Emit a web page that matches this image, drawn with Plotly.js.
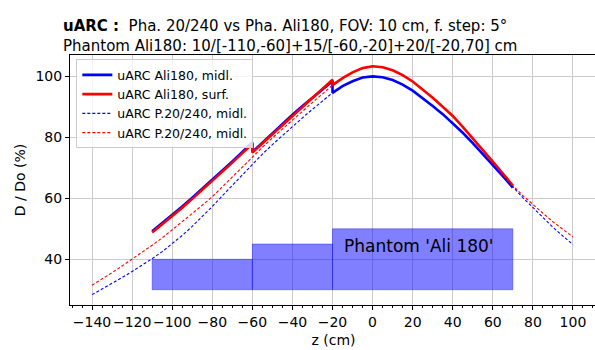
<!DOCTYPE html>
<html>
<head>
<meta charset="utf-8">
<script src="https://cdn.plot.ly/plotly-3.0.1.min.js"></script>
<style>
html,body{margin:0;padding:0;overflow:hidden;background:#fff;}
#chart{width:600px;height:350px;}
</style>
</head>
<body>
<div id="chart"></div>
<script>
// ---- Data ----
// Reference phantom P.20/240 (full range)
const zRef = [-140,-135,-130,-125,-120,-115,-110,-105,-100,-95,-90,-85,-80,-75,-70,-65,-60,-55,-50,-45,-40,-35,-30,-25,-20,-15,-10,-5,0,5,10,15,20,25,30,35,40,45,50,55,60,65,70,75,80,85,90,95,100];
const refMidl = [28.4,30.2,32.0,34.0,36.0,38.0,40.2,42.5,45.0,47.8,50.8,54.0,57.3,60.8,64.3,67.8,71.2,74.5,77.6,80.6,83.5,86.4,89.2,92.0,94.6,96.8,98.4,99.6,100.0,99.7,98.8,97.3,95.3,92.9,90.3,87.6,84.7,81.5,78.1,74.6,71.0,67.3,63.5,60.2,57.0,53.6,50.5,47.6,44.8];
const refSurf = [31.5,33.5,35.6,37.8,40.0,42.2,44.6,47.0,49.6,52.3,55.0,57.7,60.5,63.8,67.0,70.3,73.5,76.7,79.8,82.8,85.6,88.5,91.4,94.3,97.1,99.4,101.3,102.7,103.3,103.0,102.0,100.4,98.3,95.8,93.0,90.0,87.0,83.4,79.7,75.9,72.0,68.1,64.2,60.9,57.9,55.1,52.3,49.7,47.3];

// Phantom Ali180 (steps at -60 and -20)
const zAli = [-110,-105,-100,-95,-90,-85,-80,-75,-70,-65,-60,-60,-55,-50,-45,-40,-35,-30,-25,-20,-20,-15,-10,-5,0,5,10,15,20,25,30,35,40,45,50,55,60,65,70];
const aliMidl = [49.2,51.8,54.5,57.3,60.2,63.1,66.1,69.1,72.1,75.2,78.3,75.2,78.3,81.4,84.4,87.4,90.3,93.1,95.8,98.4,94.6,96.8,98.4,99.6,100.0,99.7,98.8,97.3,95.3,92.9,90.3,87.6,84.7,81.5,78.1,74.6,71.0,67.3,63.5];
const aliSurf = [48.8,51.4,54.1,56.9,59.8,62.7,65.7,68.7,71.7,74.8,77.8,75.0,78.0,81.0,84.0,86.9,89.9,92.8,95.8,98.9,97.1,99.4,101.3,102.7,103.3,103.0,102.0,100.4,98.3,95.8,93.0,90.0,87.0,83.4,79.7,75.9,72.0,68.1,64.2];

// Phantom sections: start, end, thickness (cm)
const phStart = [-110,-60,-20];
const phEnd = [-60,-20,70];
const phThick = [10,15,20];
const phBase = 30;

const xTicks = [-140,-120,-100,-80,-60,-40,-20,0,20,40,60,80,100];
const yTicks = [40,60,80,100];

const FONT = 'DejaVu Sans, sans-serif';

const traces = [
  {x: zAli, y: aliMidl, mode: 'lines', name: 'uARC Ali180, midl.', line: {color: '#0000ff', width: 2.6}},
  {x: zAli, y: aliSurf, mode: 'lines', name: 'uARC Ali180, surf.', line: {color: '#ff0000', width: 2.6}},
  {x: zRef, y: refMidl, mode: 'lines', name: 'uARC P.20/240, midl.', line: {color: '#0000ff', width: 1.1, dash: '3px,2px'}},
  {x: zRef, y: refSurf, mode: 'lines', name: 'uARC P.20/240, midl.', line: {color: '#ff0000', width: 1.1, dash: '3px,2px'}}
];

const shapes = phStart.map((s, i) => ({
  type: 'rect', xref: 'x', yref: 'y', layer: 'above',
  x0: s, x1: phEnd[i], y0: phBase, y1: phBase + phThick[i],
  fillcolor: 'rgba(0,0,255,0.5)', line: {color: 'rgba(0,0,255,0.35)', width: 1}
}));

const layout = {
  width: 600, height: 350,
  margin: {l: 70, r: 3, t: 55, b: 45},
  paper_bgcolor: '#fff', plot_bgcolor: '#fff',
  font: {family: FONT, size: 14, color: '#000'},
  title: {
    text: '<b>uARC :</b>  Pha. 20/240 vs Pha. Ali180, FOV: 10 cm, f. step: 5°<br>Phantom Ali180: 10/[-110,-60]+15/[-60,-20]+20/[-20,70] cm',
    font: {family: FONT, size: 15, color: '#000'},
    xref: 'container', x: 63/600, xanchor: 'left',
    yref: 'container', y: 1 - 31/350, yanchor: 'top'
  },
  xaxis: {
    range: [-151, 112],
    tickvals: xTicks,
    tickangle: 0,
    ticks: 'outside', ticklen: 4, tickcolor: '#000', tickwidth: 1,
    minor: {dtick: 5, ticks: 'outside', ticklen: 2, tickcolor: '#000', showgrid: false},
    showgrid: true, gridcolor: '#cccccc', gridwidth: 1,
    zeroline: false,
    showline: true, linecolor: '#000', linewidth: 1, mirror: true,
    tickfont: {family: FONT, size: 14, color: '#000'},
    title: {text: 'z (cm)', font: {family: FONT, size: 14, color: '#000'}, standoff: 6}
  },
  yaxis: {
    range: [25, 107],
    tickvals: yTicks,
    ticks: 'outside', ticklen: 4, tickcolor: '#000', tickwidth: 1,
    showgrid: true, gridcolor: '#cccccc', gridwidth: 1,
    zeroline: false,
    showline: true, linecolor: '#000', linewidth: 1, mirror: true,
    tickfont: {family: FONT, size: 14, color: '#000'},
    title: {text: 'D / Do (%)', font: {family: FONT, size: 14, color: '#000'}, standoff: 6}
  },
  legend: {
    x: 0.012, y: 0.983, xanchor: 'left', yanchor: 'top',
    bgcolor: 'rgba(255,255,255,0.8)', bordercolor: '#cccccc', borderwidth: 1,
    font: {family: FONT, size: 12.5, color: '#000'},
    itemwidth: 30, tracegroupgap: 0
  },
  shapes: shapes,
  annotations: [{
    x: (phStart[2] + phEnd[2]) / 2 - 2, y: phBase + phThick[2] - 5.5, xref: 'x', yref: 'y',
    text: "Phantom 'Ali 180'", showarrow: false,
    font: {family: FONT, size: 17, color: '#000'}
  }],
  showlegend: true
};

Plotly.newPlot('chart', traces, layout, {displayModeBar: false, staticPlot: true});
</script>
</body>
</html>
